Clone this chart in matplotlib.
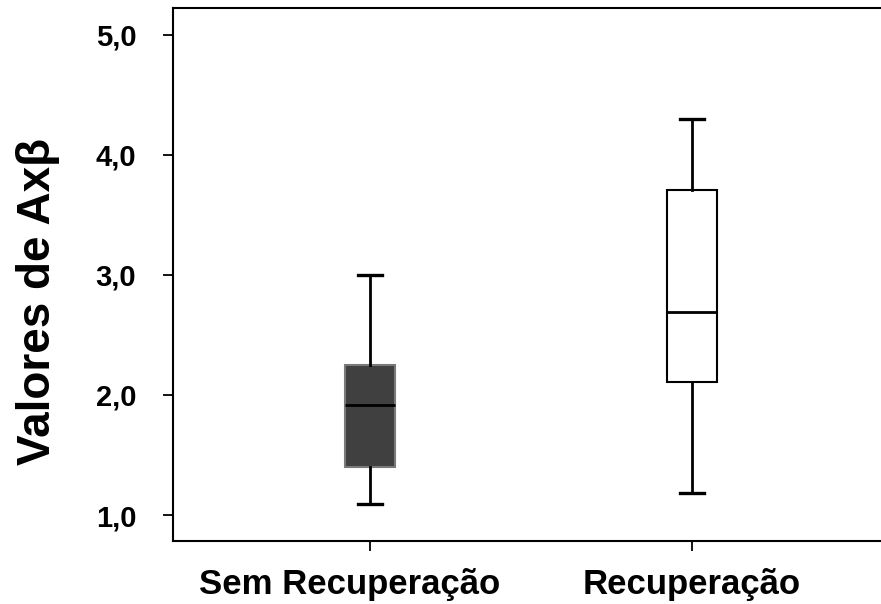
import matplotlib
matplotlib.use("Agg")
import matplotlib.pyplot as plt
import matplotlib.transforms as mtransforms
from matplotlib.ticker import FixedLocator

plt.rcParams['font.family'] = ['Liberation Sans', 'DejaVu Sans']
plt.rcParams['font.weight'] = 'bold'

# dados
grupos = ['Sem Recuperação', 'Recuperação']
minimos = [1.09, 1.18]
q1 = [1.40, 2.11]
medianas = [1.92, 2.69]
q3 = [2.25, 3.71]
maximos = [3.00, 4.30]
y_ticks = [1.0, 2.0, 3.0, 4.0, 5.0]
y_tick_labels = ['1,0', '2,0', '3,0', '4,0', '5,0']

stats = []
for i, g in enumerate(grupos):
    stats.append({'label': g, 'whislo': minimos[i], 'q1': q1[i], 'med': medianas[i],
                  'q3': q3[i], 'whishi': maximos[i], 'fliers': []})

fig = plt.figure(figsize=(8.81, 6.04), dpi=100)
ax = fig.add_axes([173 / 881, 63 / 604, 716 / 881, 533 / 604])

bp = ax.bxp(stats, positions=[1, 2], widths=0.158, capwidths=0.075,
            patch_artist=True, showfliers=False,
            boxprops=dict(linewidth=1.5),
            whiskerprops=dict(color='black', linewidth=2),
            capprops=dict(color='black', linewidth=2.4),
            medianprops=dict(color='black', linewidth=2))

cores = ['#404040', 'white']
bordas = ['#7a7a7a', 'black']
for caixa, c, b in zip(bp['boxes'], cores, bordas):
    caixa.set_facecolor(c)
    caixa.set_edgecolor(b)

ax.set_xlim(0.388, 2.612)
ax.set_ylim(0.784, 5.222)
ax.yaxis.set_major_locator(FixedLocator(y_ticks))
ax.set_yticklabels(y_tick_labels, fontsize=21, fontweight='bold')
ax.set_xticks([1, 2])
ax.set_xticklabels(grupos, fontsize=25, fontweight='bold')

ax.tick_params(axis='y', direction='out', length=7.5, width=1.3, pad=19)
ax.tick_params(axis='x', direction='out', length=7.5, width=1.3, pad=12)

# o primeiro rótulo fica um pouco deslocado para a esquerda no original
rot = ax.get_xticklabels()[0]
rot.set_transform(rot.get_transform() + mtransforms.ScaledTranslation(-0.2, 0, fig.dpi_scale_trans))

for s in ['left', 'bottom', 'top']:
    ax.spines[s].set_linewidth(1.5)
ax.spines['right'].set_visible(False)

ax.set_ylabel('Valores de Axβ', fontsize=33, fontweight='bold')
ax.yaxis.set_label_coords(-0.158, 0.45)

fig.savefig('out.png', dpi=100)
